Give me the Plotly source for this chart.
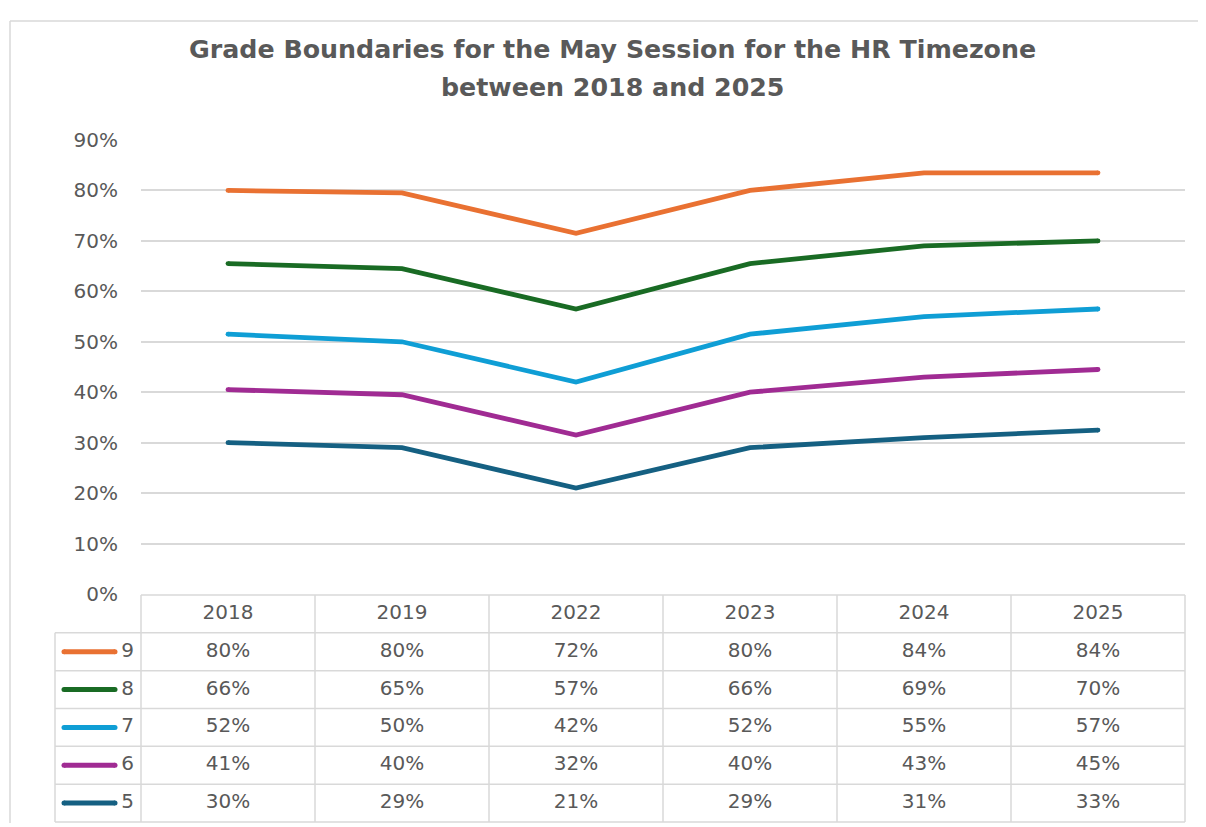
import plotly.graph_objects as go

# ---------------- data ----------------
categories = ["2018", "2019", "2022", "2023", "2024", "2025"]
grades = ["9", "8", "7", "6", "5"]
grade_9 = [80, 79.5, 71.5, 80, 83.5, 83.5]
grade_8 = [65.5, 64.5, 56.5, 65.5, 69, 70]
grade_7 = [51.5, 50, 42, 51.5, 55, 56.5]
grade_6 = [40.5, 39.5, 31.5, 40, 43, 44.5]
grade_5 = [30, 29, 21, 29, 31, 32.5]
series = [grade_9, grade_8, grade_7, grade_6, grade_5]
colors = ["#E97132", "#196B24", "#0F9ED5", "#A02B93", "#156082"]
y_ticks = [0, 10, 20, 30, 40, 50, 60, 70, 80, 90]
y_tick_text = [f"{v}%" for v in y_ticks]
title_lines = ["Grade Boundaries for the May Session for the HR Timezone",
               "between 2018 and 2025"]

# ---------------- layout constants ----------------
W, H = 1206, 827
TXT = "#595959"
GRID = "#D9D9D9"
FONT = "DejaVu Sans"

# the page is shown offset/scaled; map target screen pixels -> figure pixels
def FX(sx):
    return sx - 8


def FY(sy):
    return (sy - 20) / 0.971


def PX(sx):
    return FX(sx) / W


def PY(sy):
    return 1 - FY(sy) / H


# target screen positions (pixels)
x_left, x_right = 141, 1185          # plot area
y_top, y_bot = 140, 594              # 90% and 0%
unit_px = (x_right - x_left) / len(categories)
x0_px = x_left + unit_px / 2
tab_left_px = 55
tab_top_px, tab_bot_px = 595, 822
row_px = (tab_bot_px - tab_top_px) / (len(grades) + 1)


def px_to_u(sx):
    return (sx - x0_px) / unit_px


def py_to_v(sy):
    return (tab_bot_px - sy) / row_px


xs = list(range(len(categories)))
fig = go.Figure()

for g, vals, c in zip(grades, series, colors):
    fig.add_trace(go.Scatter(
        x=xs, y=vals, mode="lines", name=g,
        line=dict(color=c, width=4.8), xaxis="x", yaxis="y",
        showlegend=False, hoverinfo="skip"))
    fig.add_trace(go.Scatter(
        x=[xs[0], xs[-1]], y=[vals[0], vals[-1]], mode="markers",
        marker=dict(color=c, size=4.8), xaxis="x", yaxis="y",
        showlegend=False, hoverinfo="skip"))

n_rows = len(grades) + 1
tab_l = px_to_u(tab_left_px)
fig.add_trace(go.Scatter(
    x=xs, y=[n_rows - 0.5] * len(xs), mode="text", text=categories,
    textfont=dict(family=FONT, size=20, color=TXT),
    xaxis="x2", yaxis="y2", showlegend=False, hoverinfo="skip"))
for r, (g, vals, c) in enumerate(zip(grades, series, colors)):
    yc = n_rows - 1.5 - r
    fig.add_trace(go.Scatter(
        x=xs, y=[yc] * len(xs), mode="text",
        text=[f"{int(v + 0.5)}%" for v in vals],
        textfont=dict(family=FONT, size=20, color=TXT),
        xaxis="x2", yaxis="y2", showlegend=False, hoverinfo="skip"))
    kx = [px_to_u(64), px_to_u(115)]
    fig.add_trace(go.Scatter(
        x=kx, y=[yc, yc], mode="lines+markers",
        line=dict(color=c, width=5), marker=dict(color=c, size=5),
        xaxis="x2", yaxis="y2", showlegend=False, hoverinfo="skip"))
    fig.add_trace(go.Scatter(
        x=[px_to_u(134)], y=[yc], mode="text", text=[g],
        textposition="middle left",
        textfont=dict(family=FONT, size=20, color=TXT),
        xaxis="x2", yaxis="y2", showlegend=False, hoverinfo="skip"))

shapes = []
line_style = dict(color=GRID, width=1.5)
for k in range(n_rows + 1):
    xl = tab_l if k < n_rows else -0.5
    shapes.append(dict(type="line", xref="x2", yref="y2", x0=xl, x1=len(xs) - 0.5,
                       y0=k, y1=k, line=line_style, layer="below"))
for k in range(len(xs) + 1):
    shapes.append(dict(type="line", xref="x2", yref="y2", x0=k - 0.5, x1=k - 0.5,
                       y0=0, y1=n_rows, line=line_style, layer="below"))
shapes.append(dict(type="line", xref="x2", yref="y2", x0=tab_l, x1=tab_l,
                   y0=0, y1=n_rows - 1, line=line_style, layer="below"))
# outer chart border (top-left corner)
bx = PX(10)
by = 1 - 1 / H
shapes.append(dict(type="line", xref="paper", yref="paper", x0=bx, x1=bx,
                   y0=0, y1=by, line=dict(color="#D9D9D9", width=1.5)))
shapes.append(dict(type="line", xref="paper", yref="paper", x0=bx, x1=1,
                   y0=by, y1=by, line=dict(color="#D9D9D9", width=1.5)))

annotations = []
for t, ty in zip(title_lines, [50, 88]):
    annotations.append(dict(text="<b>" + t + "</b>", xref="paper", yref="paper",
                            x=PX(612), y=PY(ty), xanchor="center", yanchor="middle",
                            showarrow=False, font=dict(family=FONT, size=25.3, color=TXT)))

x2_dom = (40, 1200)
y2_dom = (588, 826.5)

fig.update_layout(
    width=W, height=H,
    margin=dict(l=0, r=0, t=0, b=0),
    paper_bgcolor="white", plot_bgcolor="rgba(0,0,0,0)",
    shapes=shapes,
    xaxis=dict(domain=[PX(x_left), PX(x_right)], range=[-0.5, len(xs) - 0.5],
               showgrid=False, zeroline=False, showticklabels=False, showline=False),
    yaxis=dict(domain=[PY(y_bot), PY(y_top)], range=[0, 90],
               tickmode="array", tickvals=y_ticks, ticktext=y_tick_text,
               showgrid=True, gridcolor=GRID,
               gridwidth=1.5, zeroline=False, showline=False, ticks="",
               ticklabelstandoff=22,
               tickfont=dict(family=FONT, size=20, color=TXT)),
    xaxis2=dict(domain=[PX(x2_dom[0]), PX(x2_dom[1])],
                range=[px_to_u(x2_dom[0]), px_to_u(x2_dom[1])],
                anchor="y2", visible=False),
    yaxis2=dict(domain=[max(0.0, PY(y2_dom[1])), PY(y2_dom[0])],
                range=[py_to_v(20 + 0.971 * H) if PY(y2_dom[1]) < 0 else py_to_v(y2_dom[1]),
                       py_to_v(y2_dom[0])],
                anchor="x2", visible=False),
    annotations=annotations,
)

fig.write_html("out.html")
